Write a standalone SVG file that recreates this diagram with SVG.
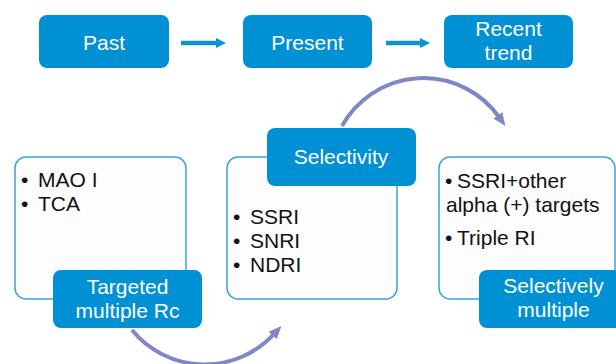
<svg xmlns="http://www.w3.org/2000/svg" width="616" height="364" viewBox="0 0 616 364">
<defs>
<style>
.lbl{fill:#0091D5;}
.card{fill:#FDFDFD;stroke:#3DA2DC;stroke-width:1.5;}
.lt{font-family:"Liberation Sans",Arial,sans-serif;font-size:21px;fill:#FFFFFF;text-anchor:middle;}
.bt{font-family:"Liberation Sans",Arial,sans-serif;font-size:21px;fill:#111111;}
.arc{fill:none;stroke:#7F87C6;stroke-width:4;}
.str{fill:none;stroke:#0D93D4;stroke-width:4.5;}
</style>
<marker id="ah" markerUnits="userSpaceOnUse" markerWidth="14" markerHeight="14" viewBox="0 0 14 14" refX="2" refY="7" orient="auto">
<path d="M0,1.5 L13,7 L0,12.5 Z" fill="#7F87C6"/>
</marker>
<marker id="bh" markerUnits="userSpaceOnUse" markerWidth="10" markerHeight="12" viewBox="0 0 10 12" refX="1" refY="6" orient="auto">
<path d="M0,1 L10,6 L0,11 Z" fill="#0D93D4"/>
</marker>
</defs>

<g id="past"><rect class="lbl" x="39" y="15" width="130" height="53" rx="8"/><text class="lt" x="104" y="50">Past</text></g>
<g id="present"><rect class="lbl" x="243" y="15" width="129" height="53" rx="8"/><text class="lt" x="307.5" y="50">Present</text></g>
<g id="recent"><rect class="lbl" x="444" y="15" width="129" height="53" rx="8"/><text class="lt" x="508.5" y="36">Recent</text><text class="lt" x="508.5" y="60">trend</text></g>

<g id="card-left"><rect class="card" x="15" y="157" width="171" height="142" rx="11"/>
<text class="bt" x="21" y="187">•</text><text class="bt" x="38" y="187">MAO I</text>
<text class="bt" x="21" y="211">•</text><text class="bt" x="38" y="211">TCA</text></g>
<g id="card-mid"><rect class="card" x="227" y="157" width="170" height="142" rx="11"/>
<text class="bt" x="233" y="224">•</text><text class="bt" x="250" y="224">SSRI</text>
<text class="bt" x="233" y="248">•</text><text class="bt" x="250" y="248">SNRI</text>
<text class="bt" x="233" y="272">•</text><text class="bt" x="250" y="272">NDRI</text></g>
<g id="card-right"><rect class="card" x="439" y="157" width="176" height="142" rx="11"/>
<text class="bt" x="445" y="188">•</text><text class="bt" x="457" y="188">SSRI+other</text>
<text class="bt" x="446" y="212">alpha (+) targets</text>
<text class="bt" x="445" y="245">•</text><text class="bt" x="457" y="245">Triple RI</text></g>

<g id="targeted"><rect class="lbl" x="53" y="270" width="149" height="58" rx="8"/><text class="lt" x="127.5" y="294">Targeted</text><text class="lt" x="127.5" y="318">multiple Rc</text></g>
<g id="selectivity"><rect class="lbl" x="267" y="128" width="149" height="58" rx="8"/><text class="lt" x="341" y="164">Selectivity</text></g>
<g id="selectively"><rect class="lbl" x="479" y="270" width="149" height="58" rx="8"/><text class="lt" x="553.5" y="293">Selectively</text><text class="lt" x="553.5" y="317">multiple</text></g>

<g id="connectors">
<line class="str" x1="181" y1="43" x2="217" y2="43" marker-end="url(#bh)"/>
<line class="str" x1="386" y1="43" x2="421" y2="43" marker-end="url(#bh)"/>
<path class="arc" d="M342,126 A93,93 0 0 1 499,117" marker-end="url(#ah)"/>
<path class="arc" d="M132,330 A94,94 0 0 0 274,334" marker-end="url(#ah)"/>
</g>
</svg>
